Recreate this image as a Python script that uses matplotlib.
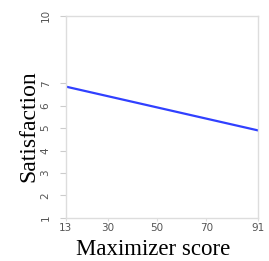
import numpy as np
import matplotlib
matplotlib.use("Agg")
import matplotlib.pyplot as plt

# fitted line: maximizer score vs satisfaction
x_ends = [13, 91]
y_ends = [6.85, 4.9]
xticks = [13, 30, 50, 70, 91]
yticks = [1, 2, 3, 4, 5, 6, 7, 10]

fig = plt.figure(figsize=(2.69, 2.61), dpi=100)
ax = fig.add_axes([0.245, 0.165, 0.714, 0.774])

ax.plot(x_ends, y_ends, color="#3040ff", lw=1.6)

ax.set_xlim(13, 91)
ax.set_ylim(1, 10)
ax.set_xticks(xticks)
ax.set_yticks(yticks)
for s in ax.spines.values():
    s.set_color("#dddddd")
    s.set_linewidth(1.0)
ax.tick_params(axis="y", colors="#cccccc", labelcolor="#555555", labelsize=7.5,
               length=4, width=0.8, pad=7)
ax.tick_params(axis="x", colors="#dddddd", labelcolor="#555555", labelsize=7.5,
               length=2, width=0.8, pad=2)
for lab in ax.get_yticklabels():
    lab.set_rotation(90)
    lab.set_va("center")

ax.set_xlabel("Maximizer score", family="Liberation Serif", fontsize=16.5)
ax.set_ylabel("Satisfaction", family="Liberation Serif", fontsize=17)
ax.xaxis.set_label_coords(0.453, -0.105)
ax.yaxis.set_label_coords(-0.14, 0.455)

fig.savefig("out.png", dpi=100)
